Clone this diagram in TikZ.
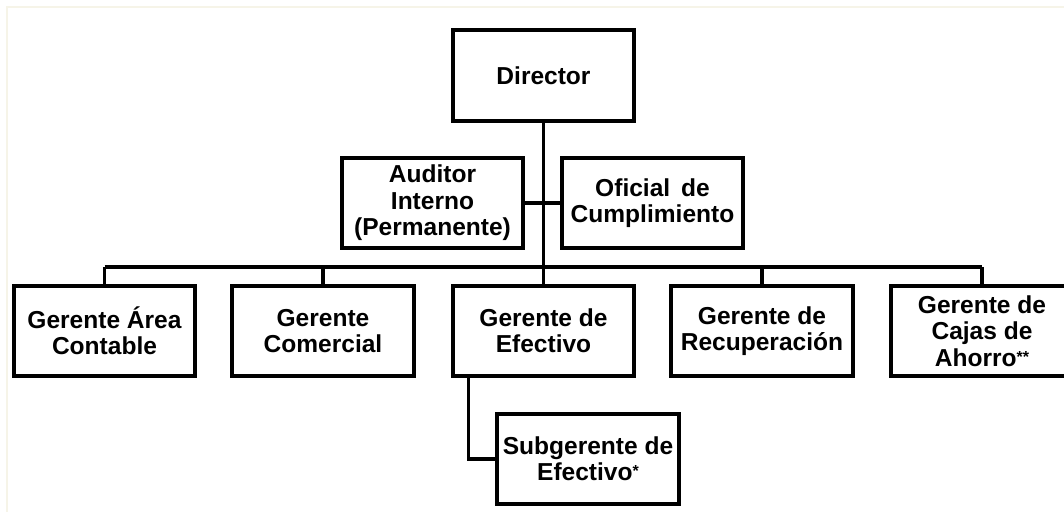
\documentclass[tikz,border=0pt]{standalone}
\usepackage{fontspec}
\setmainfont{Liberation Sans}
\definecolor{framecream}{HTML}{F6F4E8}
\newcommand{\nota}[1]{\raisebox{3pt}{\fontsize{12}{12}\selectfont #1}}

\begin{document}
\begin{tikzpicture}[x=0.75pt, y=-0.75pt,
    puesto/.style={draw=black, line width=3pt, rectangle, align=center,
        minimum width=136pt, minimum height=68pt, inner sep=0pt,
        font=\fontsize{18.4}{19.8}\selectfont\bfseries},
    linea/.style={draw=black, line width=2.4pt}]
    \useasboundingbox (0,0) rectangle (1064,512);
    \draw[framecream, line width=2.2pt] (7,512) -- (7,7) -- (1064,7);
    % nivel superior
    \node[puesto] (Director) at (543.5,75.5) {Director};
    \node[puesto] (Auditor) at (432.5,203) {Auditor\\Interno\\(Permanente)};
    \node[puesto] (Oficial) at (652.5,203) {Oficial\ \,de\\Cumplimiento};
    % gerentes
    \node[puesto] (Area) at (104.5,331) {Gerente Área\\Contable};
    \node[puesto] (Comercial) at (323,331) {Gerente\\Comercial};
    \node[puesto] (Efectivo) at (543.5,331) {Gerente de\\Efectivo};
    \node[puesto] (Recup) at (762,331) {Gerente de\\Recuperación};
    \node[puesto] (Cajas) at (982,331) {Gerente de\\Cajas de\\Ahorro\nota{**}};
    \node[puesto] (Subgerente) at (588,459) {Subgerente de\\Efectivo\nota{*}};
    % conexiones
    \coordinate (bus) at (543.5,267);
    \draw[linea] (Director.south) -- (bus);
    \draw[linea] (Auditor.east) -- (Oficial.west);
    \draw[linea] (bus -| Area.north) -- (bus -| Cajas.north);
    \foreach \g in {Area,Comercial,Efectivo,Recup,Cajas}
        \draw[linea] (bus -| \g.north) -- (\g.north);
    \draw[linea] ([xshift=13.5pt]Efectivo.south west) |- (Subgerente.west);
\end{tikzpicture}
\end{document}
